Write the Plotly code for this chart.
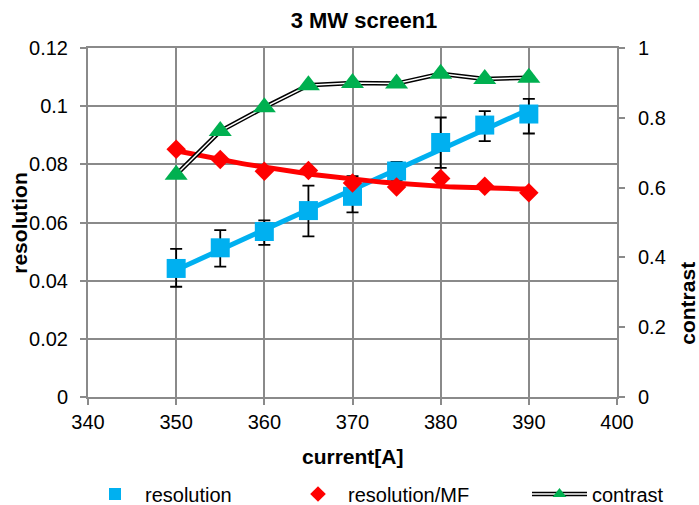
import numpy as np
import plotly.graph_objects as go

# Beam current scan, 3 MW, screen1
current = [350, 355, 360, 365, 370, 375, 380, 385, 390]
resolution = [0.0442, 0.0513, 0.0569, 0.0641, 0.0690, 0.0777, 0.0875, 0.0935, 0.0973]
res_err_plus = [0.0067, 0.0061, 0.0038, 0.0086, 0.0069, 0.0031, 0.0086, 0.0048, 0.0052]
res_err_minus = [0.0063, 0.0065, 0.0046, 0.0089, 0.0055, 0.0031, 0.0087, 0.0055, 0.0067]
resolution_mf = [0.0852, 0.0817, 0.0776, 0.0779, 0.0736, 0.0722, 0.0751, 0.0725, 0.0702]
contrast = [0.637, 0.762, 0.830, 0.893, 0.900, 0.898, 0.926, 0.911, 0.915]

x_ticks = [340, 350, 360, 370, 380, 390, 400]

FONT = "Arial, Liberation Sans, sans-serif"
GRID = "#8a8a8a"
BLUE = "#00B0F0"
RED = "#FF0000"
GREEN = "#00B050"

# Trendlines: linear for resolution, 2nd-order polynomial for resolution/MF
xs = np.linspace(min(current), max(current), 81)
res_fit = np.polyval(np.polyfit(current, resolution, 1), xs)
mf_fit = np.polyval(np.polyfit(current, resolution_mf, 2), xs)

fig = go.Figure()

fig.add_trace(go.Scatter(x=xs, y=res_fit, mode="lines", line=dict(color=BLUE, width=5),
                         showlegend=False, hoverinfo="skip"))
fig.add_trace(go.Scatter(
    x=current, y=resolution, mode="markers", name="resolution",
    marker=dict(symbol="square", size=19, color=BLUE),
    error_y=dict(type="data", array=res_err_plus, arrayminus=res_err_minus,
                 color="black", thickness=1.8, width=6),
    legend="legend"))

fig.add_trace(go.Scatter(x=xs, y=mf_fit, mode="lines", line=dict(color=RED, width=5),
                         showlegend=False, hoverinfo="skip"))
fig.add_trace(go.Scatter(
    x=current, y=resolution_mf, mode="markers", name="resolution/MF",
    marker=dict(symbol="diamond", size=15, color=RED), legend="legend2"))

# contrast: double line (black outline, white core) with green triangles
fig.add_trace(go.Scatter(x=current, y=contrast, yaxis="y2", mode="lines", name="contrast",
                         line=dict(color="black", width=4.5), legend="legend3"))
fig.add_trace(go.Scatter(x=current, y=contrast, yaxis="y2", mode="lines", name="contrast",
                         line=dict(color="white", width=1.5), legend="legend4"))
fig.add_trace(go.Scatter(x=current, y=contrast, yaxis="y2", mode="markers", name="contrast",
                         marker=dict(symbol="triangle-up", size=20, color=GREEN),
                         legend="legend5"))

axis_common = dict(
    showline=True, linecolor=GRID, linewidth=2,
    showgrid=True, gridcolor=GRID, gridwidth=2,
    ticks="outside", ticklen=6, tickwidth=2, tickcolor=GRID,
    zeroline=False, tickfont=dict(family=FONT, size=20, color="black"),
)

legend_common = dict(
    orientation="h", xref="container", yref="container", yanchor="middle",
    xanchor="left", bgcolor="rgba(0,0,0,0)", borderwidth=0,
    font=dict(family=FONT, size=20, color="black"), itemclick=False,
)
W, H = 699, 505
leg_y = 1 - 494 / H
hidden_font = dict(family=FONT, size=20, color="rgba(0,0,0,0)")

fig.update_layout(
    width=W, height=H,
    margin=dict(l=88, r=82, t=48, b=108, autoexpand=False),
    paper_bgcolor="white", plot_bgcolor="white",
    font=dict(family=FONT, size=20, color="black"),
    title=dict(text="3 MW screen1", font=dict(family=FONT, size=22, weight="bold"),
               x=364 / W, xanchor="center", xref="container",
               y=1 - 20 / H, yanchor="middle", yref="container"),
    xaxis=dict(range=[340, 400], tickvals=x_ticks, mirror=True, **axis_common),
    yaxis=dict(range=[0, 0.12], dtick=0.02, ticklabelstandoff=8, **axis_common),
    yaxis2=dict(range=[0, 1], dtick=0.2, overlaying="y", side="right",
                showline=True, linecolor=GRID, linewidth=2, showgrid=False,
                ticks="outside", ticklen=6, tickwidth=2, tickcolor=GRID,
                ticklabelstandoff=9, zeroline=False,
                tickfont=dict(family=FONT, size=20, color="black")),
    legend=dict(x=85 / W, y=leg_y, itemwidth=50, itemsizing="constant", **legend_common),
    legend2=dict(x=288 / W, y=leg_y, itemwidth=50, itemsizing="constant", **legend_common),
    legend3=dict(x=527 / W, y=leg_y, itemwidth=55, itemsizing="trace", **legend_common),
    legend4=dict(x=527 / W, y=leg_y, itemwidth=55, itemsizing="trace",
                 **{**legend_common, "font": hidden_font}),
    legend5=dict(x=527 / W, y=leg_y, itemwidth=55, itemsizing="constant",
                 **{**legend_common, "font": hidden_font}),
    showlegend=True,
    annotations=[
        dict(text="<b>resolution</b>", xref="paper", yref="paper", x=-0.13, y=0.5,
             xanchor="center", yanchor="middle", textangle=-90, showarrow=False,
             font=dict(family=FONT, size=21)),
        dict(text="<b>contrast</b>", xref="paper", yref="paper", x=1 + (688 - 617) / 529,
             y=1 - (303 - 48) / 348, xanchor="center", yanchor="middle", textangle=-90,
             showarrow=False, font=dict(family=FONT, size=21)),
        dict(text="<b>current[A]</b>", xref="paper", yref="paper", x=0.5, y=-(456 - 397) / 348,
             xanchor="center", yanchor="middle", showarrow=False,
             font=dict(family=FONT, size=21)),
    ],
)

fig.write_html("out.html")
